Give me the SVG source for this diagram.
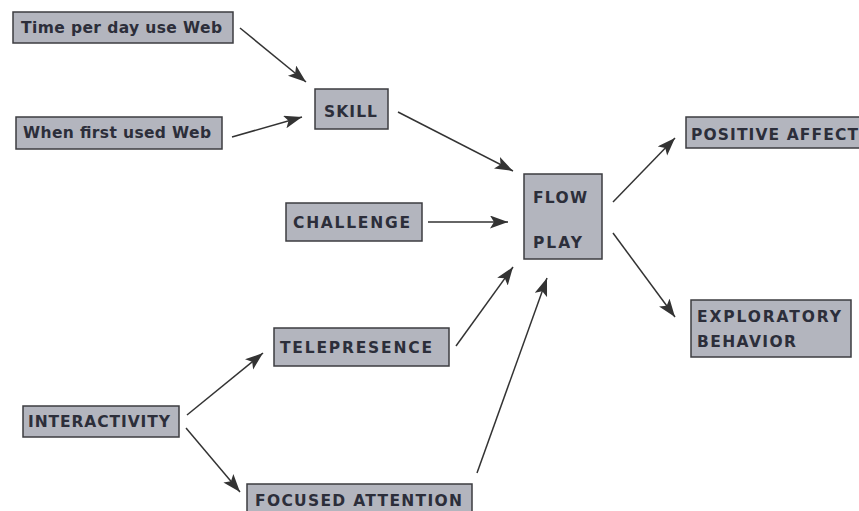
<svg xmlns="http://www.w3.org/2000/svg" width="859" height="511" viewBox="0 0 859 511">
<defs>
<style>
.box{fill:#b3b5be;stroke:#3c3c40;stroke-width:1.5}
.t{font-family:"DejaVu Sans","Verdana",sans-serif;font-weight:bold;font-size:15.5px;fill:#2c2e3a}
.c{stroke:#333;stroke-width:1.5;fill:none;marker-end:url(#ah)}
</style>
<marker id="ah" markerUnits="userSpaceOnUse" markerWidth="20" markerHeight="14" refX="18" refY="6.5" orient="auto">
<path d="M0,0 L18,6.5 L0,13 L4,6.5 z" fill="#333"/>
</marker>
</defs>
<rect width="859" height="511" fill="#fff"/>
<g id="time"><rect class="box" x="13" y="12" width="220" height="31"/><text class="t" x="21" y="33" textLength="201" lengthAdjust="spacing">Time per day use Web</text></g>
<g id="when"><rect class="box" x="16" y="117" width="206" height="32"/><text class="t" x="23" y="138" textLength="188" lengthAdjust="spacing">When first used Web</text></g>
<g id="skill"><rect class="box" x="315" y="89" width="73" height="40"/><text class="t" x="324" y="117" textLength="53" lengthAdjust="spacing">SKILL</text></g>
<g id="challenge"><rect class="box" x="286" y="203" width="136" height="38"/><text class="t" x="293" y="228" textLength="117" lengthAdjust="spacing">CHALLENGE</text></g>
<g id="flow"><rect class="box" x="524" y="174" width="78" height="85"/><text class="t" x="533" y="203" textLength="54" lengthAdjust="spacing">FLOW</text><text class="t" x="533" y="248" textLength="49" lengthAdjust="spacing">PLAY</text></g>
<g id="positive"><rect class="box" x="686" y="117" width="185" height="31"/><text class="t" x="691" y="140" textLength="167" lengthAdjust="spacing">POSITIVE AFFECT</text></g>
<g id="exploratory"><rect class="box" x="691" y="300" width="160" height="57"/><text class="t" x="697" y="322" textLength="144" lengthAdjust="spacing">EXPLORATORY</text><text class="t" x="697" y="347" textLength="99" lengthAdjust="spacing">BEHAVIOR</text></g>
<g id="telepresence"><rect class="box" x="274" y="328" width="175" height="38"/><text class="t" x="280" y="353" textLength="152" lengthAdjust="spacing">TELEPRESENCE</text></g>
<g id="interactivity"><rect class="box" x="23" y="406" width="156" height="31"/><text class="t" x="28" y="427" textLength="142" lengthAdjust="spacing">INTERACTIVITY</text></g>
<g id="focused"><rect class="box" x="247" y="484" width="225" height="40"/><text class="t" x="255" y="506" textLength="207" lengthAdjust="spacing">FOCUSED ATTENTION</text></g>
<g id="connectors">
<line class="c" x1="240" y1="28" x2="306" y2="82"/>
<line class="c" x1="232" y1="137" x2="302" y2="117"/>
<line class="c" x1="398" y1="112" x2="513" y2="171"/>
<line class="c" x1="428" y1="222" x2="508" y2="222"/>
<line class="c" x1="456" y1="346" x2="513" y2="267"/>
<line class="c" x1="477" y1="473" x2="547" y2="278"/>
<line class="c" x1="613" y1="202" x2="675" y2="138"/>
<line class="c" x1="613" y1="233" x2="675" y2="317"/>
<line class="c" x1="187" y1="415" x2="263" y2="353"/>
<line class="c" x1="186" y1="428" x2="240" y2="492"/>
</g>
</svg>
